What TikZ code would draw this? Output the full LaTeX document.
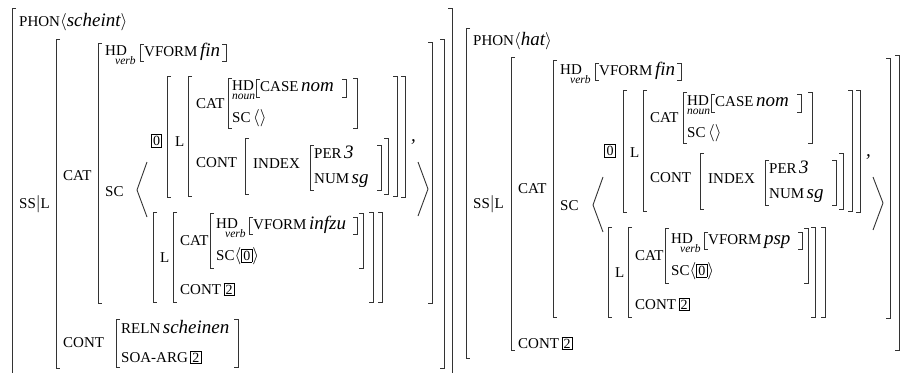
\documentclass[tikz,border=0pt]{standalone}
\usepackage{fontspec}
\setmainfont{Liberation Serif}
\usetikzlibrary{positioning}

% feature names, values, sort labels and tags
\newcommand\attr[1]{{\fontsize{15}{15}\selectfont #1}}
\newcommand\val[1]{{\fontsize{19}{19}\selectfont\itshape #1}}
\newcommand\sortlbl[1]{{\fontsize{11.5}{11.5}\selectfont\itshape #1}}
\newcommand\tagb[1]{{\setlength\fboxsep{1.4pt}\setlength\fboxrule{0.7pt}\fbox{\fontsize{14}{14}\selectfont #1}}}
\newcommand\lang{{\fontsize{19}{19}\selectfont$\langle$}}
\newcommand\rang{{\fontsize{19}{19}\selectfont$\rangle$}}
\newcommand\pathbar{{\fontsize{19}{19}\selectfont$|$}}
% square brackets: x, top, bottom
\newcommand\lbrk[3]{\draw[brk] (#1+4,#2) -- (#1,#2) -- (#1,#3) -- (#1+4,#3);}
\newcommand\rbrk[3]{\draw[brk] (#1-4,#2) -- (#1,#2) -- (#1,#3) -- (#1-4,#3);}

\begin{document}
\begin{tikzpicture}[
  x=1pt, y=-1pt,
  brk/.style={line width=0.9pt, color=black!80},
  ang/.style={line width=0.9pt, color=black!80},
  lbl/.style={anchor=base west, inner sep=0pt},
  tg/.style={inner sep=0pt},
]
\useasboundingbox (0,0) rectangle (901,372);

%% ---------- left: scheint ----------
\draw[brk] (16,8) -- (12,8) -- (12,373);
\draw[brk] (448,8) -- (452,8) -- (452,373);
\node[lbl] (phonL) at (19,27) {\attr{PHON}\lang\val{scheint}\rang};
\node[lbl] (sslL) at (19,208) {\attr{SS}\pathbar\attr{L}};
\lbrk{56}{39}{368} \rbrk{444}{39}{368}

\node[lbl] (catL) at (63,180) {\attr{CAT}};
\lbrk{98}{43}{303} \rbrk{432}{42}{303}
\node[lbl] (hdL) at (105,55) {\attr{HD}};
\node[lbl] (verbL) at (115,64.5) {\sortlbl{verb}};
\lbrk{140}{44}{61} \rbrk{226}{44}{61}
\node[lbl] (vformL) at (144,56) {\attr{VFORM} \val{fin}};

\node[lbl] (scL) at (105,196) {\attr{SC}};
\draw[ang] (147,162) -- (137,190) -- (147,217);
\node[tg] (tagzL) at (156.5,141) {\tagb{0}};

% first element of SC
\lbrk{167}{76}{197} \rbrk{405}{76}{197}
\node[lbl] (lonL) at (175,146) {\attr{L}};
\lbrk{188}{76}{196} \rbrk{397}{76}{196}
\node[lbl] (catonL) at (196,108) {\attr{CAT}};
\lbrk{228}{78}{128} \rbrk{357}{78}{128}
\node[lbl] (hdonL) at (232,90) {\attr{HD}};
\node[lbl] (nounL) at (232,99.5) {\sortlbl{noun}};
\lbrk{256}{79}{97} \rbrk{346}{79}{97}
\node[lbl] (caseL) at (260,91) {\attr{CASE} \val{nom}};
\node[lbl] (sconL) at (232,122) {\attr{SC} \lang\rang};
\node[lbl] (contonL) at (196,167) {\attr{CONT}};
\lbrk{245}{138}{194} \rbrk{388}{138}{194}
\node[lbl] (indexL) at (253,168) {\attr{INDEX}};
\lbrk{310}{145}{190} \rbrk{381}{145}{190}
\node[lbl] (perL) at (314,158) {\attr{PER} \val{3}};
\node[lbl] (numL) at (314,183) {\attr{NUM} \val{sg}};
\node[lbl] (commaL) at (411,141) {\val{,}};
\draw[ang] (418,162) -- (428,189) -- (418,216);

% second element of SC
\lbrk{153}{212}{302} \rbrk{382}{212}{302}
\node[lbl] (ltwL) at (160,262) {\attr{L}};
\lbrk{173}{212}{302} \rbrk{373}{212}{302}
\node[lbl] (cattwL) at (180,245) {\attr{CAT}};
\lbrk{210}{213}{268} \rbrk{363}{213}{268}
\node[lbl] (hdtwL) at (216,228) {\attr{HD}};
\node[lbl] (verbtwL) at (225,237.5) {\sortlbl{verb}};
\lbrk{249}{217}{234} \rbrk{357}{217}{234}
\node[lbl] (vformtwL) at (253,229) {\attr{VFORM} \val{infzu}};
\node[lbl] (sctwL) at (216,260) {\attr{SC}\lang\tagb{0}\rang};
\node[lbl] (conttwL) at (180,294) {\attr{CONT} \tagb{2}};

% CONT of scheint
\node[lbl] (contL) at (63,347) {\attr{CONT}};
\lbrk{116}{319}{367} \rbrk{238}{319}{367}
\node[lbl] (relnL) at (121,333) {\attr{RELN} \val{scheinen}};
\node[lbl] (soaL) at (121,362) {\attr{SOA-ARG} \tagb{2}};

%% ---------- right: hat ----------
\draw[brk] (470,28) -- (466,28) -- (466,358) -- (470,358);
\node[lbl] (phonR) at (473,45) {\attr{PHON}\lang\val{hat}\rang};
\node[lbl] (sslR) at (473,208) {\attr{SS}\pathbar\attr{L}};
\lbrk{511}{57}{350} \rbrk{899}{55}{350}

\node[lbl] (catR) at (518,193) {\attr{CAT}};
\lbrk{553}{60}{317} \rbrk{890}{58}{318}
\node[lbl] (hdR) at (560,74) {\attr{HD}};
\node[lbl] (verbR) at (570,83.5) {\sortlbl{verb}};
\lbrk{595}{63}{80} \rbrk{681}{63}{80}
\node[lbl] (vformR) at (599,75) {\attr{VFORM} \val{fin}};

\node[lbl] (scR) at (560,210) {\attr{SC}};
\draw[ang] (603,177) -- (593,205) -- (603,232);
\node[tg] (tagzR) at (610,151) {\tagb{0}};

% first element of SC
\lbrk{623}{90}{212} \rbrk{860}{90}{212}
\node[lbl] (lonR) at (630,157) {\attr{L}};
\lbrk{643}{90}{211} \rbrk{852}{90}{211}
\node[lbl] (catonR) at (650,122) {\attr{CAT}};
\lbrk{683}{92}{143} \rbrk{812}{92}{143}
\node[lbl] (hdonR) at (687,105) {\attr{HD}};
\node[lbl] (nounR) at (687,114.5) {\sortlbl{noun}};
\lbrk{711}{94}{112} \rbrk{801}{94}{112}
\node[lbl] (caseR) at (715,106) {\attr{CASE} \val{nom}};
\node[lbl] (sconR) at (687,137) {\attr{SC} \lang\rang};
\node[lbl] (contonR) at (650,182) {\attr{CONT}};
\lbrk{700}{153}{209} \rbrk{843}{153}{209}
\node[lbl] (indexR) at (708,183) {\attr{INDEX}};
\lbrk{765}{160}{205} \rbrk{836}{160}{205}
\node[lbl] (perR) at (769,173) {\attr{PER} \val{3}};
\node[lbl] (numR) at (769,198) {\attr{NUM} \val{sg}};
\node[lbl] (commaR) at (866,156) {\val{,}};
\draw[ang] (873,177) -- (883,203) -- (873,230);

% second element of SC
\lbrk{608}{227}{317} \rbrk{825}{227}{317}
\node[lbl] (ltwR) at (615,277) {\attr{L}};
\lbrk{628}{227}{317} \rbrk{815}{227}{317}
\node[lbl] (cattwR) at (635,260) {\attr{CAT}};
\lbrk{665}{228}{283} \rbrk{808}{228}{283}
\node[lbl] (hdtwR) at (671,243) {\attr{HD}};
\node[lbl] (verbtwR) at (680,252.5) {\sortlbl{verb}};
\lbrk{704}{232}{249} \rbrk{802}{232}{249}
\node[lbl] (vformtwR) at (708,244) {\attr{VFORM} \val{psp}};
\node[lbl] (sctwR) at (671,275) {\attr{SC}\lang\tagb{0}\rang};
\node[lbl] (conttwR) at (635,309) {\attr{CONT} \tagb{2}};

% CONT of hat
\node[lbl] (contR) at (518,348) {\attr{CONT} \tagb{2}};
\end{tikzpicture}
\end{document}
